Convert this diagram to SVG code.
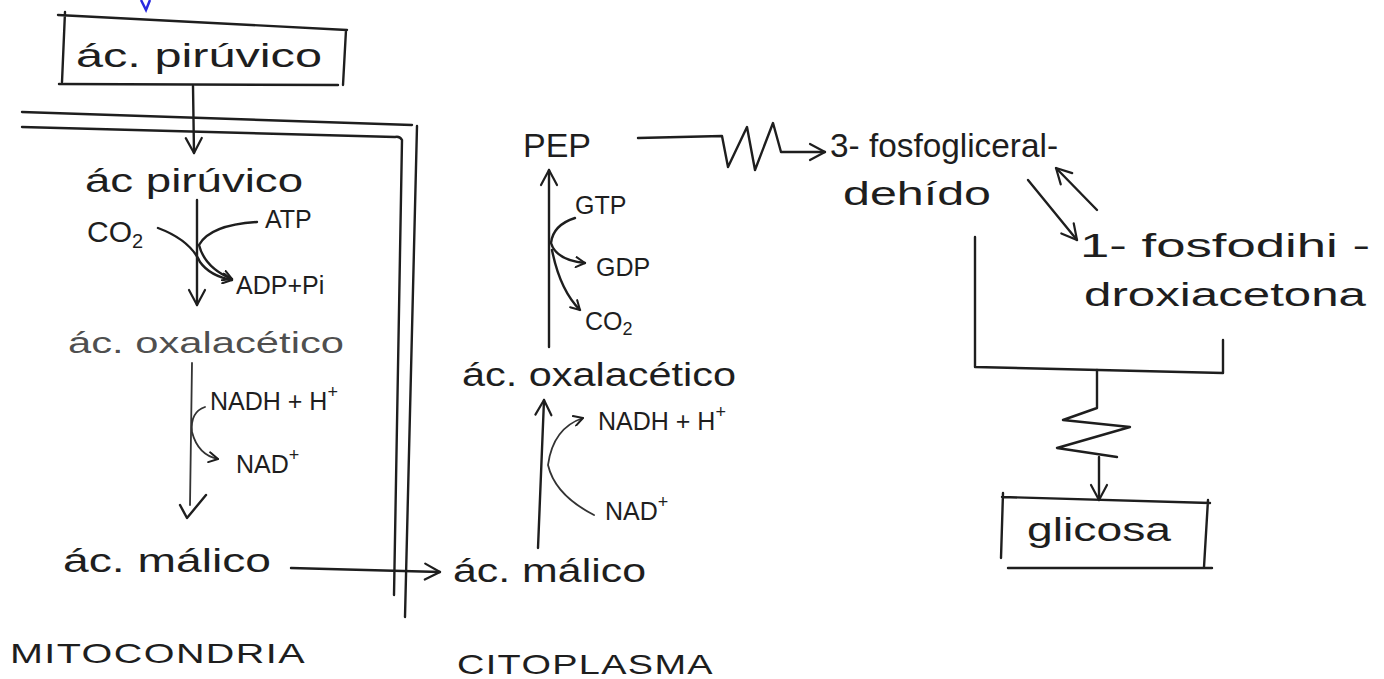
<svg xmlns="http://www.w3.org/2000/svg" width="1384" height="679" viewBox="0 0 1384 679">
<defs>
<style>
.t{font-family:"Liberation Sans",Arial,sans-serif;fill:#1e1e1e;font-size:30px}
.lg{font-size:34px}
.sm{font-size:25px}
.cap{font-size:28px;letter-spacing:1px}
.ln{fill:none;stroke:#1e1e1e;stroke-width:2.4;stroke-linecap:round;stroke-linejoin:round}
.thin{stroke-width:1.8;stroke:#333}
</style>
<marker id="ah" viewBox="0 0 12 12" refX="10" refY="6" markerWidth="12" markerHeight="12" markerUnits="userSpaceOnUse" orient="auto">
<path d="M1,1 L10,6 L1,11" fill="none" stroke="#1e1e1e" stroke-width="2" stroke-linecap="round" stroke-linejoin="round"/>
</marker>
<marker id="ahL" viewBox="0 0 20 20" refX="17" refY="10" markerWidth="20" markerHeight="20" markerUnits="userSpaceOnUse" orient="auto">
<path d="M2,2 L17,10 L2,18" fill="none" stroke="#1e1e1e" stroke-width="2.2" stroke-linecap="round" stroke-linejoin="round"/>
</marker>
</defs>
<rect width="1384" height="679" fill="#ffffff"/>
<path d="M141,0 L146,10 L150,0" fill="none" stroke="#2a2ae0" stroke-width="2.5"/>

<g id="membrane">
<path class="ln" d="M22,112 L412,125"/>
<path class="ln" d="M22,127 L395,137 Q400,136 402,140 L394,595"/>
<path class="ln" d="M417,126 L405,617"/>
</g>

<g id="connectors">
<path class="ln" d="M193,86 L194,153" marker-end="url(#ahL)"/>
<path class="ln" d="M197,200 L197,305" marker-end="url(#ahL)"/>
<path class="ln" d="M158,228 Q190,240 200,262 Q210,276 232,280" marker-end="url(#ah)"/>
<path class="ln" d="M257,222 Q210,225 199,245 Q205,268 232,279" marker-end="url(#ah)"/>
<path class="ln thin" d="M192,363 L190,505"/>
<path class="ln" d="M180,505 L187,518 L206,495"/>
<path class="ln thin" d="M205,407 Q190,412 192,432 Q198,455 218,459" marker-end="url(#ah)"/>
<path class="ln" d="M291,568 L440,572" marker-end="url(#ahL)"/>
<path class="ln" d="M549,347 L549,170" marker-end="url(#ahL)"/>
<path class="ln" d="M575,218 Q553,225 551,243 Q556,260 585,263" marker-end="url(#ah)"/>
<path class="ln" d="M552,250 Q560,290 580,310" marker-end="url(#ah)"/>
<path class="ln" d="M538,548 L544,400" marker-end="url(#ahL)"/>
<path class="ln thin" d="M594,515 Q555,495 548,465 Q553,428 583,418" marker-end="url(#ah)"/>
<path class="ln" d="M638,138 L722,136 L728,167 L747,127 L755,170 L773,123 L781,152 L825,152" marker-end="url(#ahL)"/>
<path class="ln" d="M1028,180 L1077,240" marker-end="url(#ahL)"/>
<path class="ln" d="M1097,210 L1056,168" marker-end="url(#ahL)"/>
<path class="ln" d="M975,237 L975,367 L1223,373 L1223,340"/>
<path class="ln" d="M1097,370 L1097,408 L1063,420 L1130,427 L1057,448 L1117,457"/>
<path class="ln" d="M1099,457 L1099,500" marker-end="url(#ahL)"/>
</g>

<g id="node-piruvico-top">
<path class="ln" d="M58,15 L347,30 M65,12 L62,82 M59,84 L338,85 M346,30 L343,85"/>
<text class="t lg" x="76" y="67" textLength="246" lengthAdjust="spacingAndGlyphs">ác. pirúvico</text>
</g>
<g id="node-piruvico-mito">
<text class="t lg" x="85" y="192" textLength="218" lengthAdjust="spacingAndGlyphs">ác pirúvico</text>
</g>
<g id="node-co2-mito">
<text class="t" x="87" y="242">CO<tspan font-size="20" dy="6">2</tspan></text>
</g>
<g id="node-atp-mito">
<text class="t sm" x="265" y="228">ATP</text>
</g>
<g id="node-adp-mito">
<text class="t sm" x="236" y="294">ADP+Pi</text>
</g>
<g id="node-oxalacetico-mito">
<text class="t" x="68" y="353" textLength="276" lengthAdjust="spacingAndGlyphs" fill-opacity="0.8">ác. oxalacético</text>
</g>
<g id="node-nadh-mito">
<text class="t sm" x="210" y="410">NADH + H<tspan font-size="18" dy="-12">+</tspan></text>
</g>
<g id="node-nad-mito">
<text class="t sm" x="236" y="473">NAD<tspan font-size="18" dy="-12">+</tspan></text>
</g>
<g id="node-malico-mito">
<text class="t lg" x="63" y="572" textLength="208" lengthAdjust="spacingAndGlyphs">ác. málico</text>
</g>
<g id="label-mitocondria">
<text class="t cap" x="10" y="663" textLength="296" lengthAdjust="spacingAndGlyphs">MITOCONDRIA</text>
</g>

<g id="node-pep">
<text class="t lg" x="523" y="157">PEP</text>
</g>
<g id="node-gtp">
<text class="t sm" x="575" y="214">GTP</text>
</g>
<g id="node-gdp">
<text class="t sm" x="596" y="276">GDP</text>
</g>
<g id="node-co2-cito">
<text class="t sm" x="585" y="330">CO<tspan font-size="18" dy="5">2</tspan></text>
</g>
<g id="node-oxalacetico-cito">
<text class="t lg" x="462" y="386" textLength="274" lengthAdjust="spacingAndGlyphs">ác. oxalacético</text>
</g>
<g id="node-nadh-cito">
<text class="t sm" x="598" y="430">NADH + H<tspan font-size="18" dy="-12">+</tspan></text>
</g>
<g id="node-nad-cito">
<text class="t sm" x="605" y="520">NAD<tspan font-size="18" dy="-12">+</tspan></text>
</g>
<g id="node-malico-cito">
<text class="t lg" x="453" y="582" textLength="193" lengthAdjust="spacingAndGlyphs">ác. málico</text>
</g>
<g id="label-citoplasma">
<text class="t cap" x="457" y="674" textLength="257" lengthAdjust="spacingAndGlyphs">CITOPLASMA</text>
</g>

<g id="node-gliceraldehido">
<text class="t lg" x="830" y="157" textLength="228" lengthAdjust="spacingAndGlyphs">3- fosfogliceral-</text>
<text class="t lg" x="843" y="205" textLength="148" lengthAdjust="spacingAndGlyphs">dehído</text>
</g>
<g id="node-dihidroxiacetona">
<text class="t lg" x="1080" y="257" textLength="290" lengthAdjust="spacingAndGlyphs">1- fosfodihi -</text>
<text class="t lg" x="1084" y="306" textLength="282" lengthAdjust="spacingAndGlyphs">droxiacetona</text>
</g>
<g id="node-glicosa">
<path class="ln" d="M1002,497 L1210,503 M1003,493 L1001,558 M1208,500 L1204,567 M1008,568 L1212,568"/>
<text class="t lg" x="1027" y="541" textLength="144" lengthAdjust="spacingAndGlyphs">glicosa</text>
</g>
</svg>
